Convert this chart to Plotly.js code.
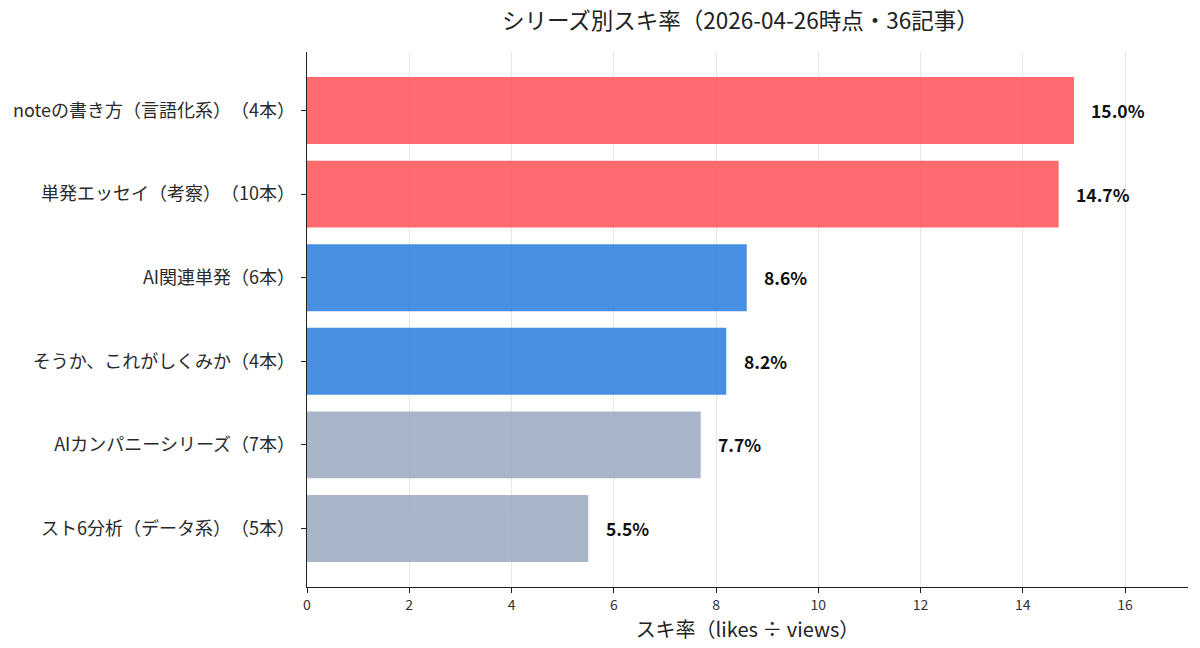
<!DOCTYPE html>
<html>
<head>
<meta charset="utf-8">
<script src="https://cdn.plot.ly/plotly-3.0.1.min.js"></script>
<style>
  html, body { margin: 0; padding: 0; background: #fff; }
  #chart { width: 1200px; height: 648px; }
  #chart, #chart text { text-spacing-trim: space-all; }
</style>
</head>
<body>
<div id="chart"></div>
<script>
const series = [
  'noteの書き方（言語化系）（4本）',
  '単発エッセイ（考察）（10本）',
  'AI関連単発（6本）',
  'そうか、これがしくみか（4本）',
  'AIカンパニーシリーズ（7本）',
  'スト6分析（データ系）（5本）',
];
const rates = [15.0, 14.7, 8.6, 8.2, 7.7, 5.5];
const barColors = ['#ff5a5f', '#ff5a5f', '#3483df', '#3483df', '#a0aec4', '#a0aec4'];
const xTicks = [0, 2, 4, 6, 8, 10, 12, 14, 16];

const font = '"Noto Sans CJK JP", "Noto Sans", sans-serif';

const trace = {
  type: 'bar',
  orientation: 'h',
  y: series,
  x: rates,
  width: 0.8,
  marker: { color: barColors, line: { width: 0 } },
  opacity: 0.9,
  hoverinfo: 'none',
};

// value labels just right of each bar
const labels = rates.map((v, i) => ({
  x: v + 0.3,
  y: series[i],
  text: v.toFixed(1) + '%',
  xanchor: 'left',
  yanchor: 'middle',
  showarrow: false,
  font: { family: font, size: 17.5, color: '#111', weight: 'bold' },
}));

const layout = {
  width: 1200,
  height: 648,
  margin: { l: 307, r: 12, t: 52, b: 61 },
  paper_bgcolor: '#fff',
  plot_bgcolor: '#fff',
  font: { family: font, color: '#222' },
  title: {
    text: 'シリーズ別スキ率（2026-04-26時点・36記事）',
    font: { family: font, size: 22.5, color: '#222' },
    x: 0.617, xanchor: 'center',
    y: 0.968, yanchor: 'middle',
  },
  xaxis: {
    range: [0, 17.23],
    tickvals: xTicks,
    ticktext: xTicks.map(String),
    ticks: 'outside', ticklen: 5, tickcolor: '#222',
    tickfont: { size: 14, color: '#333' },
    showgrid: true, gridcolor: '#e6e6e6', gridwidth: 1,
    zeroline: false,
    showline: true, linecolor: '#222', linewidth: 1.3,
    title: { text: 'スキ率（likes ÷ views）', font: { size: 20, color: '#222' }, standoff: 2 },
  },
  yaxis: {
    type: 'category',
    categoryorder: 'array',
    categoryarray: series,
    range: [5.7, -0.7],
    ticks: 'outside', ticklen: 5, tickcolor: '#222',
    tickfont: { size: 18, color: '#2a2a2a' },
    showgrid: false,
    zeroline: false,
    showline: true, linecolor: '#222', linewidth: 1.3,
    ticklabelstandoff: 2,
  },
  annotations: labels,
  showlegend: false,
  bargap: 0.2,
};

Plotly.newPlot('chart', [trace], layout, { displayModeBar: false, staticPlot: true });
</script>
</body>
</html>
